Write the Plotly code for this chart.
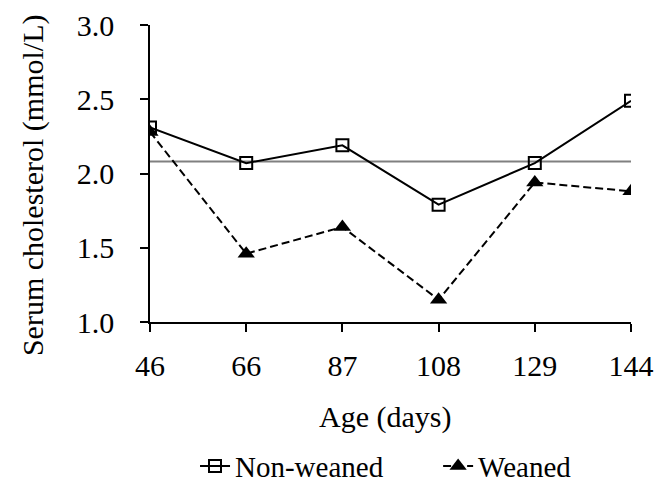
import plotly.graph_objects as go

ages = ["46", "66", "87", "108", "129", "144"]
non_weaned = [2.31, 2.07, 2.19, 1.79, 2.07, 2.49]
weaned = [2.28, 1.46, 1.64, 1.15, 1.94, 1.88]
reference_level = 2.08
y_ticks = [1.0, 1.5, 2.0, 2.5, 3.0]

font_family = "Liberation Serif, Times New Roman, serif"
fs = 30

fig = go.Figure()
fig.add_trace(go.Scatter(
    x=ages, y=[reference_level] * len(ages), mode="lines",
    line=dict(color="#808080", width=2), showlegend=False, hoverinfo="skip"))
fig.add_trace(go.Scatter(
    x=ages, y=non_weaned, mode="lines+markers", name="Non-weaned",
    line=dict(color="black", width=2), legend="legend",
    marker=dict(symbol="square-open", size=12, color="black", line=dict(width=2))))
fig.add_trace(go.Scatter(
    x=ages, y=weaned, mode="lines+markers", name="Weaned",
    line=dict(color="black", width=2, dash="8px,4px"), legend="legend2",
    marker=dict(symbol="triangle-up", size=15, color="black")))

legend_style = dict(orientation="h", xanchor="left", yanchor="middle", y=-0.485,
                    font=dict(size=29), itemwidth=30, bgcolor="rgba(0,0,0,0)")

fig.update_layout(
    width=656, height=484,
    margin=dict(l=150, r=25, t=25, b=162, autoexpand=False),
    paper_bgcolor="white", plot_bgcolor="white",
    font=dict(family=font_family, size=fs, color="black"),
    showlegend=True,
    legend=dict(x=0.0936, **legend_style),
    legend2=dict(x=0.599, **legend_style),
    xaxis=dict(
        type="category", range=[0, 5], showgrid=False, zeroline=False,
        showline=True, linecolor="black", linewidth=1.5,
        ticks="outside", ticklen=8, tickwidth=1.5, tickcolor="black",
        tickfont=dict(size=fs), ticklabelstandoff=8),
    yaxis=dict(
        range=[1.0, 3.0], tickvals=y_ticks, ticktext=[f"{v:.1f}" for v in y_ticks],
        showgrid=False, zeroline=False,
        showline=True, linecolor="black", linewidth=1.5,
        ticks="outside", ticklen=8, tickwidth=1.5, tickcolor="black",
        tickfont=dict(size=fs), ticklabelstandoff=20),
    annotations=[
        dict(text="Age (days)", xref="paper", yref="paper", x=0.4886, y=-0.320,
             xanchor="center", yanchor="middle", showarrow=False,
             font=dict(size=fs)),
        dict(text="Serum cholesterol (mmol/L)", xref="paper", yref="paper",
             x=-0.2432, y=0.461, textangle=-90, xanchor="center", yanchor="middle",
             showarrow=False, font=dict(size=fs)),
    ],
)

# remove the default 8px page margin so the 656x484 figure fills the window exactly
fig.write_html("out.html", config={"displayModeBar": False},
               post_script="document.body.style.margin='0';document.documentElement.style.overflow='hidden';")
